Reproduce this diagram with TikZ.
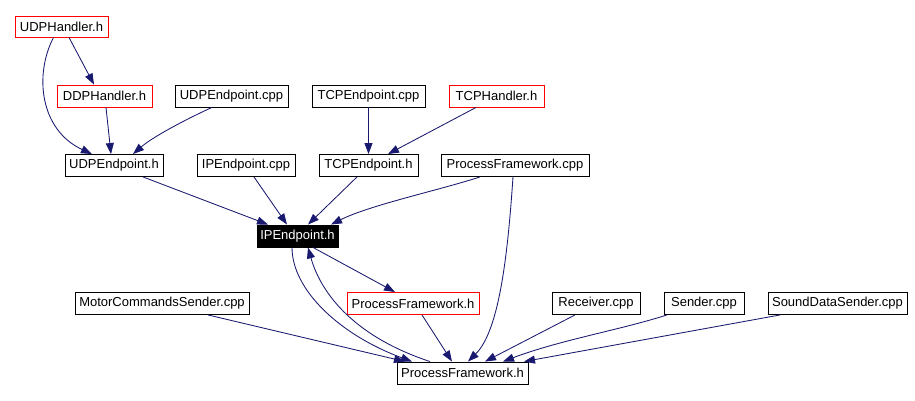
\documentclass[tikz,border=0pt]{standalone}
\usepackage{fontspec}
\setmainfont{Liberation Sans}
\usetikzlibrary{arrows.meta,calc}
\definecolor{edgec}{HTML}{191970}
\begin{document}
\begin{tikzpicture}[x=1pt,y=-1pt,
 box/.style={draw=black,line width=0.9pt,inner sep=0pt,minimum height=22pt,font=\fontsize{13}{15}\selectfont,fill=white},
 redbox/.style={box,draw=red},
 hibox/.style={box,fill=black,text=white},
 edge/.style={draw=edgec,line width=0.85pt,-{Triangle[length=11pt,width=8pt]}}]
\useasboundingbox[fill=white] (0,0) rectangle (915,401);

\node[redbox,minimum width=93pt,minimum height=21pt] (udph) at (61.5,26.5) {UDPHandler.h};
\node[redbox,minimum width=95pt] (ddph) at (104.5,96) {DDPHandler.h};
\node[box,minimum width=113pt] (udpcpp) at (231.5,96) {UDPEndpoint.cpp};
\node[box,minimum width=113pt] (tcpcpp) at (368.5,96) {TCPEndpoint.cpp};
\node[redbox,minimum width=95pt] (tcph) at (496.5,96) {TCPHandler.h};
\node[box,minimum width=98pt] (udpe) at (114,165.5) {UDPEndpoint.h};
\node[box,minimum width=98pt] (ipcpp) at (246,165.5) {IPEndpoint.cpp};
\node[box,minimum width=99pt] (tcpe) at (368.5,165.5) {TCPEndpoint.h};
\node[box,minimum width=148pt] (pfcpp) at (515,165.5) {ProcessFramework.cpp};
\node[hibox,minimum width=81pt] (ipe) at (297.5,236) {IPEndpoint.h};
\node[box,minimum width=174pt] (motor) at (162,303.5) {MotorCommandsSender.cpp};
\node[redbox,minimum width=132pt] (pfhr) at (413,303.5) {ProcessFramework.h};
\node[box,minimum width=88pt] (recv) at (596,303.5) {Receiver.cpp};
\node[box,minimum width=80pt] (send) at (704,303.5) {Sender.cpp};
\node[box,minimum width=139pt] (sound) at (837.5,303.5) {SoundDataSender.cpp};
\node[box,minimum width=131pt] (pfh) at (462.5,373) {ProcessFramework.h};

\draw[edge] ([xshift=7.5pt]udph.south) -- ([xshift=-10.5pt]ddph.north);
\draw[edge] ([xshift=-8pt]udph.south) .. controls (34,75) and (40,130) .. ([xshift=-22pt]udpe.north);
\draw[edge] ([xshift=1.5pt]ddph.south) -- ([xshift=-3pt]udpe.north);
\draw[edge] ([xshift=-19.5pt]udpcpp.south) .. controls (195,115) and (155,135) .. ([xshift=19pt]udpe.north);
\draw[edge] (tcpcpp.south) -- (tcpe.north);
\draw[edge] ([xshift=-20.5pt]tcph.south) -- ([xshift=19.5pt]tcpe.north);
\draw[edge] ([xshift=29pt]udpe.south) -- ([xshift=-29.5pt]ipe.north);
\draw[edge] ([xshift=8pt]ipcpp.south) -- ([xshift=-10.5pt]ipe.north);
\draw[edge] ([xshift=-11.5pt]tcpe.south) -- ([xshift=10.5pt]ipe.north);
\draw[edge] ([xshift=-35pt]pfcpp.south) .. controls (440,190) and (370,205) .. ([xshift=33.5pt]ipe.north);
\draw[edge] ([xshift=-2pt]pfcpp.south) .. controls (508,250) and (500,330) .. ([xshift=5.5pt]pfh.north);
\draw[edge] ([xshift=15.5pt]ipe.south) -- ([xshift=-18pt]pfhr.north);
\draw[edge] ([xshift=-5.5pt]ipe.south) .. controls (292,290) and (340,335) .. ([xshift=-50.5pt]pfh.north);
\draw[edge] ([xshift=-32.5pt]pfh.north) .. controls (350,335) and (320,290) .. ([xshift=10.5pt]ipe.south);
\draw[edge] ([xshift=9pt]pfhr.south) -- ([xshift=-10.5pt]pfh.north);
\draw[edge] ([xshift=46pt]motor.south) -- ([xshift=-57.5pt]pfh.north);
\draw[edge] ([xshift=-21pt]recv.south) -- ([xshift=22.5pt]pfh.north);
\draw[edge] ([xshift=-37pt]send.south) .. controls (620,330) and (560,340) .. ([xshift=40.5pt]pfh.north);
\draw[edge] ([xshift=-57.5pt]sound.south) -- ([xshift=61.5pt]pfh.north);
\end{tikzpicture}
\end{document}
